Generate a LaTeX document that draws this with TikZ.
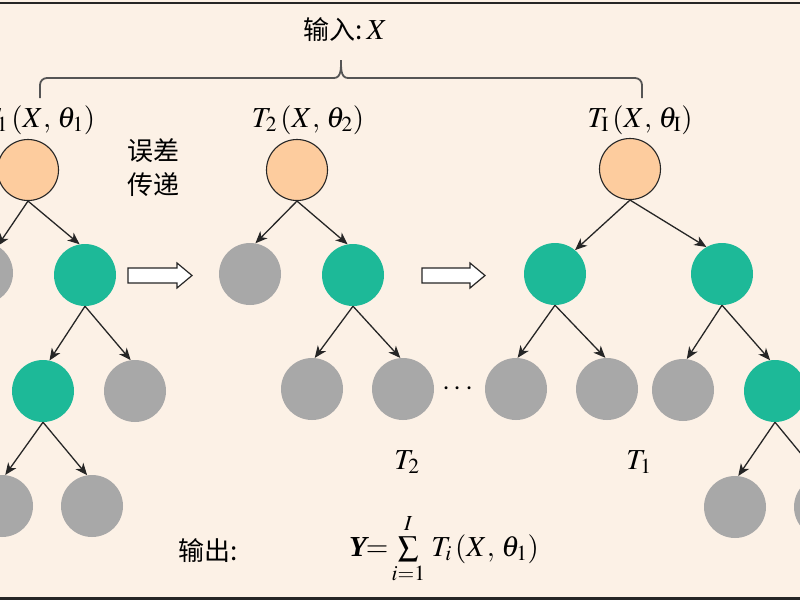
\documentclass[tikz,border=0pt]{standalone}
\usepackage{mathptmx}
\usepackage{fontspec}
\setmainfont{Liberation Serif}
\newfontfamily\cjk{Noto Sans CJK SC}
\usetikzlibrary{arrows.meta}
\definecolor{bg}{HTML}{FCF1E6}
\definecolor{orangefill}{HTML}{FDCC9E}
\definecolor{greenfill}{HTML}{1DB998}
\definecolor{grayfill}{HTML}{A8A8A8}
\definecolor{inkc}{HTML}{262626}
\definecolor{bracec}{HTML}{555555}
\tikzset{
  rootnode/.style={circle, draw=inkc, line width=1.1pt, fill=orangefill, minimum size=61pt, inner sep=0pt},
  greennode/.style={circle, fill=greenfill, minimum size=62pt, inner sep=0pt},
  graynode/.style={circle, fill=grayfill, minimum size=62pt, inner sep=0pt},
  edge/.style={draw=inkc, line width=1.3pt, -{Stealth[length=12pt,width=10pt,inset=3.5pt]}},
  lbl/.style={font=\fontsize{29}{34}\selectfont, inner sep=0pt},
  cjklbl/.style={font=\fontsize{26}{34}\selectfont\cjk, inner sep=0pt, align=center},
  hollow/.style={draw=inkc, line width=1.2pt, fill=white},
  bracepath/.style={draw=bracec, line width=1.8pt}
}
\begin{document}
\begin{tikzpicture}[x=1pt,y=-1pt]
\clip (0,0) rectangle (800,600);
\fill[bg] (0,0) rectangle (800,600);
\draw[inkc, line width=2pt] (0,3) -- (800,3);
\draw[inkc, line width=3pt] (0,598) -- (800,598);

% input label and brace
\node[cjklbl] (inp) at (345,30) {输入:\,{\rmfamily\fontsize{29}{34}\selectfont$X$}};
\draw[bracepath] (40,98) -- (40,85) to[out=90,in=180] (47,78) -- (334,78)
  to[out=0,in=-90] (341,60) to[out=-90,in=180] (348,78) -- (635,78)
  to[out=0,in=90] (642,85) -- (642,98);

% tree 1
\node[lbl] (t1) at (39,120) {$T_1\,(X,\,\theta_1)$};
\node[rootnode] (r1) at (28,170) {};
\node[graynode] (a1) at (-18,273) {};
\node[greennode] (b1) at (85,275) {};
\node[greennode] (c1) at (43,391) {};
\node[graynode] (d1) at (135,391) {};
\node[graynode] (e1) at (2,506) {};
\node[graynode] (f1) at (92,506) {};
\draw[edge] (r1.south) -- (a1.60);
\draw[edge] (r1.south) -- (b1.100);
\draw[edge] (b1.south) -- (c1.78);
\draw[edge] (b1.south) -- (d1.98);
\draw[edge] (c1.south) -- (e1.84);
\draw[edge] (c1.south) -- (f1.99);

\node[cjklbl] (err) at (153,168) {误差\\传递};

% hollow arrow 1
\filldraw[hollow] (128,268) -- (177,268) -- (177,263) -- (192,275.5) -- (177,288) -- (177,283) -- (128,283) -- cycle;

% tree 2
\node[lbl] (t2) at (308,120) {$T_2\,(X,\,\theta_2)$};
\node[rootnode] (r2) at (297,170) {};
\node[graynode] (a2) at (250,274) {};
\node[greennode] (b2) at (353,275) {};
\node[graynode] (c2) at (312,389) {};
\node[graynode] (d2) at (403,389) {};
\draw[edge] (r2.south) -- (a2.80);
\draw[edge] (r2.south) -- (b2.100);
\draw[edge] (b2.south) -- (c2.85);
\draw[edge] (b2.south) -- (d2.95);
\node[lbl] (dots) at (458,389) {$\cdots$};
\node[lbl] (lt2) at (407,462) {$T_2$};

% hollow arrow 2
\filldraw[hollow] (422,268) -- (470,268) -- (470,263) -- (485,275.5) -- (470,288) -- (470,283) -- (422,283) -- cycle;

% tree 3
\node[lbl] (t3) at (640,120) {$T_{\mathrm{I}}\,(X,\,\theta_{\mathrm{I}})$};
\node[rootnode] (r3) at (630,169) {};
\node[greennode] (a3) at (555,274) {};
\node[greennode] (b3) at (722,274) {};
\node[graynode] (c3) at (516,389) {};
\node[graynode] (d3) at (607,389) {};
\node[graynode] (e3) at (683,390) {};
\node[greennode] (f3) at (775,391) {};
\node[graynode] (g3) at (735,507) {};
\node[graynode] (h3) at (825,507) {};
\draw[edge] (r3.south) -- (a3.50);
\draw[edge] (r3.south) -- (b3.120);
\draw[edge] (a3.south) -- (c3.87);
\draw[edge] (a3.south) -- (d3.93);
\draw[edge] (b3.south) -- (e3.83);
\draw[edge] (b3.south) -- (f3.99);
\draw[edge] (f3.south) -- (g3.84);
\draw[edge] (f3.south) -- (h3.100);
\node[lbl] (lt1) at (639,462) {$T_1$};

% output
\node[cjklbl] (outl) at (208,551) {输出:};
\node[lbl] (formula) at (444,549) {\textbf{\textit{Y}}$\!=\!\textstyle\sum\limits_{i=1}^{I}\,T_i\,(X,\,\theta_1)$};
\end{tikzpicture}
\end{document}
